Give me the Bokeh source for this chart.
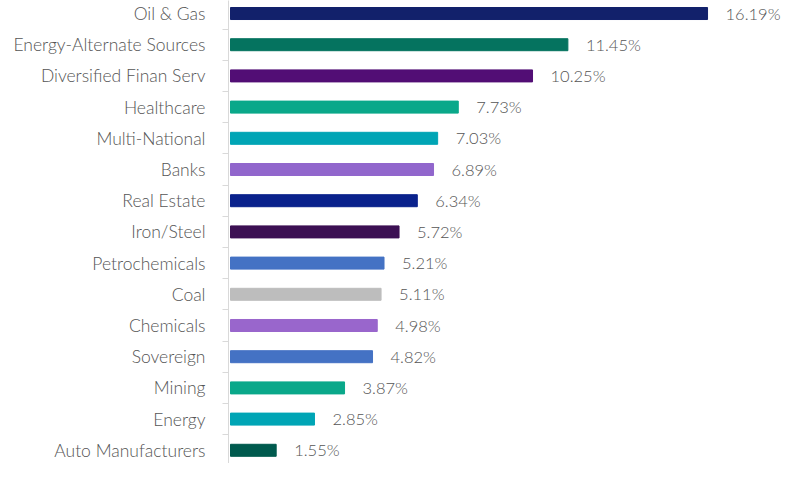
from bokeh.plotting import figure
from bokeh.models import ColumnDataSource, Range1d, FixedTicker, LabelSet
from bokeh.core.properties import value
from bokeh.embed import file_html
from bokeh.resources import INLINE

categories = ["Oil & Gas", "Energy-Alternate Sources", "Diversified Finan Serv", "Healthcare",
              "Multi-National", "Banks", "Real Estate", "Iron/Steel", "Petrochemicals", "Coal",
              "Chemicals", "Sovereign", "Mining", "Energy", "Auto Manufacturers"]
values = [16.19, 11.45, 10.25, 7.73, 7.03, 6.89, 6.34, 5.72, 5.21, 5.11, 4.98, 4.82, 3.87, 2.85, 1.55]
colors = ["#12216B", "#05735F", "#520E75", "#0AA88A", "#00A5B5", "#9166CC", "#0A228C", "#3C1053",
          "#4472C4", "#BDBDBD", "#9966CC", "#4472C4", "#0AA88A", "#00A5B5", "#005A4E"]

n = len(categories)
ypos = [n - 1 - i for i in range(n)]
labels = ["%.2f%%" % v for v in values]

src = ColumnDataSource(dict(y=ypos, v=values, c=colors, lab=labels, cat=categories))

FONT = "Lato Light"

p = figure(width=781, height=463, output_backend="svg", toolbar_location=None,
           x_range=Range1d(-0.068, 18.70), y_range=Range1d(-0.423, n - 1 + 0.417),
           min_border_left=228, min_border_right=0, min_border_top=0, min_border_bottom=0)

p.hbar(y="y", left=0, right="v", height=0.385, color="c", source=src)

p.add_layout(LabelSet(x="v", y="y", text="lab", source=src, x_offset=18, y_offset=0,
                      text_baseline="middle", text_font=value(FONT), text_font_size="16.5px",
                      text_color="#555555"))

p.xaxis.visible = False
p.grid.visible = False
p.outline_line_color = None

p.yaxis.ticker = FixedTicker(ticks=ypos, minor_ticks=[y + 0.5 for y in range(-1, n)])
p.yaxis.major_label_overrides = {y: c for y, c in zip(ypos, categories)}
p.yaxis.major_tick_line_color = None
p.yaxis.minor_tick_in = 0
p.yaxis.minor_tick_out = 6
p.yaxis.minor_tick_line_color = "#D9D9D9"
p.yaxis.axis_line_color = "#D9D9D9"
p.yaxis.axis_line_width = 1
p.yaxis.major_label_text_font = FONT
p.yaxis.major_label_text_font_size = "17.5px"
p.yaxis.major_label_text_color = "#555555"
p.yaxis.major_label_standoff = 17

open("out.html", "w").write(file_html(p, INLINE))
